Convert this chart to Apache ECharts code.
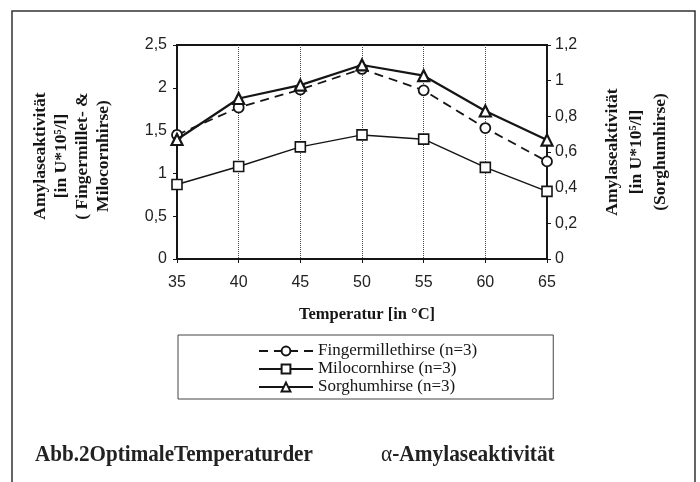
<!DOCTYPE html>
<html>
<head>
<meta charset="utf-8">
<script src="https://cdn.jsdelivr.net/npm/echarts@6/dist/echarts.min.js"></script>
<style>
  html, body { margin: 0; padding: 0; background: #fff; }
  #chart { width: 700px; height: 482px; }
</style>
</head>
<body>
<div id="chart"></div>
<script>
// Temperature steps (°C)
const temps = [35, 40, 45, 50, 55, 60, 65];
// Amylase activity, left axis [U*10^5/l]
const fingermillet = [1.45, 1.77, 1.98, 2.22, 1.97, 1.53, 1.14];
const milocorn = [0.87, 1.08, 1.31, 1.45, 1.40, 1.07, 0.79];
// Amylase activity, right axis [U*10^5/l]
const sorghum = [0.67, 0.90, 0.975, 1.088, 1.028, 0.83, 0.667];

const seriesNames = ['Fingermillethirse (n=3)', 'Milocornhirse (n=3)', 'Sorghumhirse (n=3)'];
const xTitle = 'Temperatur [in °C]';
const leftTitle = 'Amylaseaktivität\n[in U*10⁵/l]\n( Fingermillet- &\nMilocornhirse)';
const rightTitle = 'Amylaseaktivität\n[in U*10⁵/l]\n(Sorghumhirse)';
const captionA = 'Abb.2OptimaleTemperaturder';
const captionB = 'α-Amylaseaktivität';

const serif = '"Liberation Serif", "Times New Roman", serif';
const sans = '"Liberation Sans", Arial, sans-serif';
const ink = '#151515';

const pairs = arr => temps.map((t, i) => [t, arr[i]]);
const comma = v => String(v).replace('.', ',');

const chart = echarts.init(document.getElementById('chart'), null, { renderer: 'canvas' });

chart.setOption({
  animation: false,
  backgroundColor: '#fff',
  grid: {
    left: 177, right: 153, top: 45, bottom: 223,
    show: true, borderColor: ink, borderWidth: 2, backgroundColor: 'transparent'
  },
  xAxis: {
    type: 'value', min: 35, max: 65, interval: 5,
    name: xTitle, nameLocation: 'middle', nameGap: 47,
    nameTextStyle: { fontFamily: serif, fontWeight: 'bold', fontSize: 16.5, color: ink, padding: [0, 0, 0, 10] },
    axisLine: { lineStyle: { color: ink, width: 2 } },
    axisTick: { show: true, length: 4, lineStyle: { color: ink } },
    axisLabel: { fontFamily: sans, fontSize: 16, color: '#222', margin: 16 },
    splitLine: { show: true, lineStyle: { type: 'dotted', color: '#444', width: 1 } }
  },
  yAxis: [
    {
      type: 'value', min: 0, max: 2.5, interval: 0.5, position: 'left',
      axisLine: { show: true, lineStyle: { color: ink, width: 2 } },
      axisTick: { show: true, length: 4, lineStyle: { color: ink } },
      axisLabel: { fontFamily: sans, fontSize: 16, color: '#222', margin: 10, formatter: comma },
      splitLine: { show: false }
    },
    {
      type: 'value', min: 0, max: 1.2, interval: 0.2, position: 'right',
      axisLine: { show: true, lineStyle: { color: ink, width: 1.5 } },
      axisTick: { show: true, length: 4, lineStyle: { color: ink } },
      axisLabel: { fontFamily: sans, fontSize: 16, color: '#222', margin: 8, formatter: comma },
      splitLine: { show: false }
    }
  ],
  legend: {
    orient: 'vertical', left: 178, top: 335,
    padding: [7, 76, 3, 80],
    itemWidth: 54, itemHeight: 11, itemGap: 0,
    borderColor: '#444', borderWidth: 1, backgroundColor: '#fff',
    textStyle: { fontFamily: serif, fontSize: 17, lineHeight: 18, color: ink },
    data: seriesNames
  },
  series: [
    {
      name: seriesNames[0], type: 'line', yAxisIndex: 0, data: pairs(fingermillet),
      symbol: 'circle', symbolSize: 10, z: 4,
      lineStyle: { color: ink, width: 1.8, type: [9, 6] },
      itemStyle: { color: '#fff', borderColor: ink, borderWidth: 1.8 }
    },
    {
      name: seriesNames[1], type: 'line', yAxisIndex: 0, data: pairs(milocorn),
      symbol: 'rect', symbolSize: 10, z: 3,
      lineStyle: { color: ink, width: 1.5 },
      itemStyle: { color: '#fff', borderColor: ink, borderWidth: 1.6 }
    },
    {
      name: seriesNames[2], type: 'line', yAxisIndex: 1, data: pairs(sorghum),
      symbol: 'triangle', symbolSize: 11, z: 5,
      lineStyle: { color: ink, width: 2.2 },
      itemStyle: { color: '#fff', borderColor: ink, borderWidth: 2.2 }
    }
  ],
  graphic: [
    {
      type: 'rect', silent: true, z: -1,
      shape: { x: 12, y: 11, width: 683, height: 520 },
      style: { fill: 'none', stroke: '#333', lineWidth: 1.5 }
    },
    {
      type: 'text', x: 72, y: 156, rotation: Math.PI / 2,
      style: {
        text: leftTitle, fontFamily: serif, fontWeight: 'bold', fontSize: 17.5,
        lineHeight: 21, fill: ink, align: 'center', verticalAlign: 'middle'
      }
    },
    {
      type: 'text', x: 636, y: 152, rotation: Math.PI / 2,
      style: {
        text: rightTitle, fontFamily: serif, fontWeight: 'bold', fontSize: 17.5,
        lineHeight: 24, fill: ink, align: 'center', verticalAlign: 'middle'
      }
    },
    {
      type: 'text', x: 35, y: 455, scaleX: 0.88,
      style: {
        text: captionA, fontFamily: serif, fontWeight: 'bold', fontSize: 24,
        fill: '#222', align: 'left', verticalAlign: 'middle'
      }
    },
    {
      type: 'text', x: 381, y: 455, scaleX: 0.89,
      style: {
        text: '{a|α}{b|-Amylaseaktivität}', fontFamily: serif, fill: '#222',
        align: 'left', verticalAlign: 'middle',
        rich: {
          a: { fontFamily: serif, fontSize: 24, fontWeight: 'normal', fill: '#222' },
          b: { fontFamily: serif, fontSize: 24, fontWeight: 'bold', fill: '#222' }
        }
      }
    }
  ]
});
</script>
</body>
</html>
